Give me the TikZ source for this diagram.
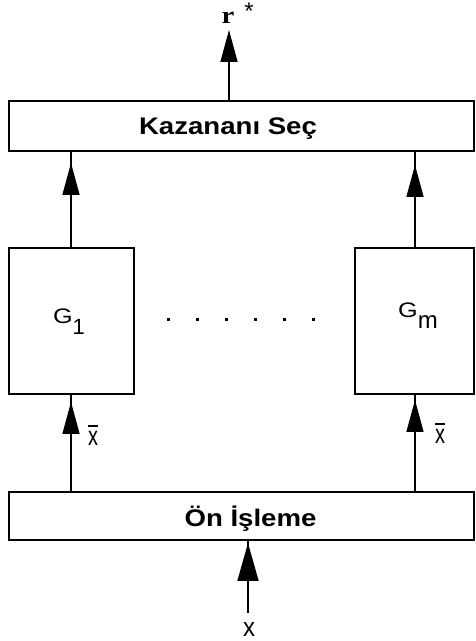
\documentclass[tikz,border=0pt]{standalone}
\usepackage{fontspec}
\usepackage{graphicx}
\setmainfont{Liberation Sans}
\newfontfamily\serifbf{Liberation Serif}
\usetikzlibrary{arrows.meta}
\newcommand{\xbarlbl}{\scalebox{1}[1.35]{\setbox0\hbox{x}\rlap{\raisebox{\dimexpr\ht0+3pt\relax}{\rule{\wd0}{1.4pt}}}x}}
\newcommand{\fsz}[1]{\fontsize{#1}{#1}\selectfont}
\begin{document}
\begin{tikzpicture}[x=1pt,y=1pt,
  blk/.style={draw,line width=1.8pt,inner sep=0pt,minimum height=#1},
  wire/.style={line width=1.6pt},
  arr/.style={line width=1.6pt,-{Triangle[length=32pt,width=17pt]}},
  bigarr/.style={line width=1.6pt,-{Triangle[length=38pt,width=21pt]}},
  txt/.style={inner sep=0pt},
  head/.style={txt,anchor=base}]
\useasboundingbox (0,0) rectangle (475,641);
% boxes
\node[blk=50pt,minimum width=465pt] (kaz) at (241.5,515) {};
\node[blk=48pt,minimum width=465pt] (on) at (241.5,125) {};
\node[blk=146pt,minimum width=125pt] (g1) at (71.5,320) {};
\node[blk=146pt,minimum width=119pt] (gm) at (414.5,320) {};
% box texts
\node[head] (kazt) at (228,506) {\bfseries\fsz{24}\scalebox{1.15}[1]{Kazananı Seç}};
\node[head] (ont) at (250.5,114) {\bfseries\fsz{24}\scalebox{1.15}[1]{Ön İşleme}};
\node[txt] (g1t) at (69,319.5)
  {\fsz{21}\scalebox{1.2}[1]{G}\raisebox{-11pt}{\fsz{22}1}};
\node[txt] (gmt) at (418,325)
  {\fsz{21}\scalebox{1.2}[1]{G}\raisebox{-11pt}{\fsz{24}m}};
% dots
\foreach \i in {0,...,5}
  \fill (168+29*\i-1.5,319.5) rectangle ++(3,3);
% output
\coordinate (rtip) at (229,611);
\draw[arr] (kaz.north -| rtip) -- (rtip);
\node[txt] (r) at (228,623) {\serifbf\bfseries\fsz{24}\scalebox{1.2}[1]{r}};
\node[txt] (rstar) at (249,630) {\fsz{24}*};
% G -> Kazanani
\coordinate (a1) at (71,478);
\coordinate (a2) at (415,476);
\draw[wire] (a1 |- g1.north) -- (a1 |- kaz.south);
\draw[arr] (a1 |- g1.north) -- (a1);
\draw[wire] (a2 |- gm.north) -- (a2 |- kaz.south);
\draw[arr] (a2 |- gm.north) -- (a2);
% On -> G
\coordinate (b1) at (71,239);
\coordinate (b2) at (415,241);
\draw[wire] (b1 |- on.north) -- (b1 |- g1.south);
\draw[arr] (b1 |- on.north) -- (b1);
\draw[wire] (b2 |- on.north) -- (b2 |- gm.south);
\draw[arr] (b2 |- on.north) -- (b2);
\node[txt] (xb1) at (93,205.5) {\fsz{20}\xbarlbl};
\node[txt] (xb2) at (440,208) {\fsz{20}\xbarlbl};
% input
\node[txt] (xin) at (249,11) {\fsz{24}\scalebox{1}[1.1]{x}};
\coordinate (xs) at (248,28);
\coordinate (ctip) at (248,98);
\draw[wire] (xs) -- (xs |- on.south);
\draw[bigarr] (xs) -- (ctip);
\end{tikzpicture}
\end{document}
